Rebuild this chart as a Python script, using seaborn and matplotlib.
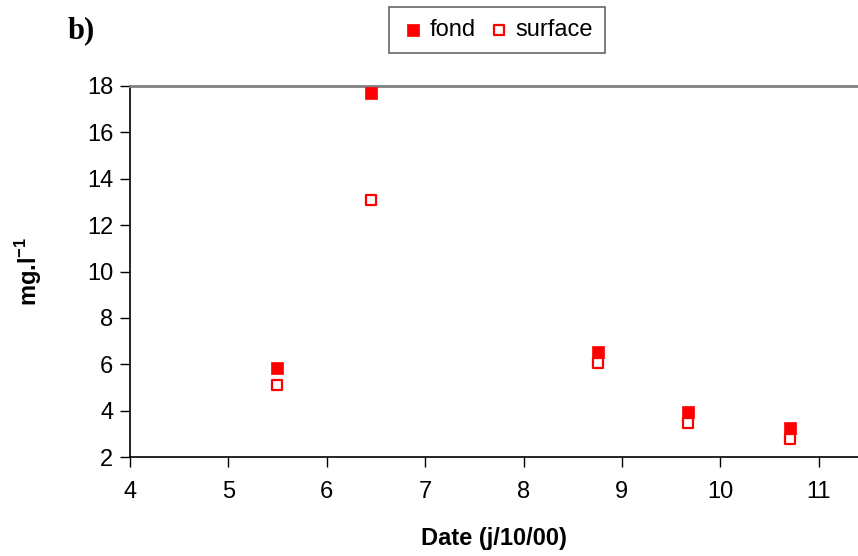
import matplotlib
matplotlib.use("Agg")
import matplotlib.pyplot as plt
import seaborn as sns
import pandas as pd

dates = [5.49, 6.45, 8.76, 9.67, 10.71]
fond = [5.85, 17.7, 6.53, 3.94, 3.25]
surface = [5.1, 13.1, 6.05, 3.45, 2.78]
x_ticks = [4, 5, 6, 7, 8, 9, 10, 11]
y_ticks = [2, 4, 6, 8, 10, 12, 14, 16, 18]

sns.set_theme(style="white")
plt.rcParams['font.family'] = ['Liberation Sans', 'DejaVu Sans']
plt.rcParams['text.color'] = 'black'
plt.rcParams['axes.labelcolor'] = 'black'
plt.rcParams['xtick.color'] = 'black'
plt.rcParams['ytick.color'] = 'black'
plt.rcParams['mathtext.fontset'] = 'custom'
plt.rcParams['mathtext.bf'] = 'Liberation Sans:bold'
plt.rcParams['mathtext.rm'] = 'Liberation Sans'

fig = plt.figure(figsize=(8.58, 5.56), dpi=100)
ax = fig.add_axes([130/858, 1-457/556, 1-130/858, (457-86)/556])

df_f = pd.DataFrame({"x": dates, "y": fond})
df_s = pd.DataFrame({"x": dates, "y": surface})
sns.scatterplot(data=df_f, x="x", y="y", marker="s", s=80, color="#ff0000",
                edgecolor="#ff0000", linewidth=0.5, ax=ax, label="fond", zorder=3)
sns.scatterplot(data=df_s, x="x", y="y", marker="s", s=60, facecolor="white",
                edgecolor="#ff0000", linewidth=1.6, ax=ax, label="surface", zorder=3)

ax.set_xlim(4, 11.4)
ax.set_ylim(2, 18)
ax.set_xticks(x_ticks)
ax.set_yticks(y_ticks)
ax.tick_params(axis='both', which='both', direction='out', length=7, width=1,
               color='black', labelcolor='black', labelsize=17, bottom=True, left=True)
ax.tick_params(axis='x', pad=10)
ax.tick_params(axis='y', pad=5)
for side in ['left', 'bottom']:
    ax.spines[side].set_color('black')
    ax.spines[side].set_linewidth(1.2)
ax.spines['top'].set_color('#808080')
ax.spines['top'].set_linewidth(2)
ax.spines['right'].set_visible(False)

ax.set_xlabel("Date (j/10/00)", fontsize=17, fontweight='bold', labelpad=20)
ax.xaxis.set_label_coords(0.50, -0.19)
ax.set_ylabel("mg.l$^{\\mathbf{-1}}$", fontsize=17, fontweight='bold', labelpad=31)

fig.text(68/858, 1-31/556, "b)", fontsize=22, fontweight='bold',
         family=['Liberation Serif'], va='center', ha='left')

leg = ax.legend(loc='center', bbox_to_anchor=(497/858, 1-30/556),
                bbox_transform=fig.transFigure, ncol=2, frameon=True,
                fancybox=False, edgecolor='#404040', fontsize=17,
                handletextpad=0.2, columnspacing=0.5, borderpad=0.5,
                markerscale=0.9, handlelength=1.0)
leg.get_frame().set_linewidth(1.2)

fig.savefig("out.png", dpi=100)
